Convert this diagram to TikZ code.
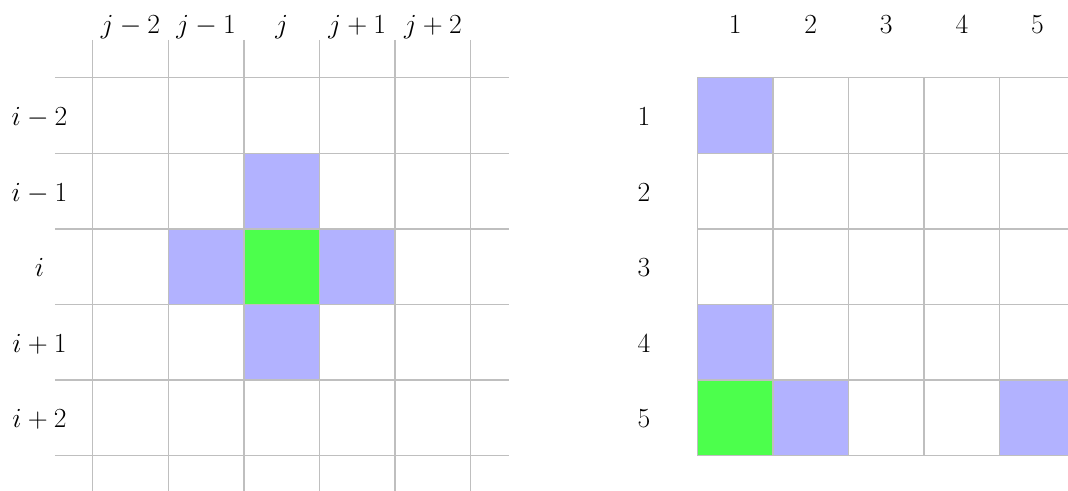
\documentclass[tikz,border=0pt]{standalone}
\begin{document}
\begin{tikzpicture}[x=0.75pt,y=-0.75pt,
  gridline/.style={draw=gray!50, line width=1.1pt},
  bluecell/.style={fill=blue!30},
  greencell/.style={fill=green!70},
  lbl/.style={font=\fontsize{20.74}{25}\selectfont, inner sep=0pt, anchor=base}]
\useasboundingbox (0,0) rectangle (1068,491);
\clip (0,0) rectangle (1068,491);
\def\s{75.6}
\def\lx{92.7}
\def\rx{697.3}
\def\ty{77.7}
% left grid fills (col,row)
\foreach \c/\r in {2/1,1/2,3/2,2/3}
  \fill[bluecell] ({\lx+\c*\s},{\ty+\r*\s}) rectangle +(\s,\s);
\fill[greencell] ({\lx+2*\s},{\ty+2*\s}) rectangle +(\s,\s);
% right grid fills
\foreach \c/\r in {0/0,0/3,1/4,4/4}
  \fill[bluecell] ({\rx+\c*\s},{\ty+\r*\s}) rectangle +(\s,\s);
\fill[greencell] ({\rx},{\ty+4*\s}) rectangle +(\s,\s);
% left grid lines
\foreach \k in {0,...,5} {
  \draw[gridline] ({\lx+\k*\s},39.9) -- ({\lx+\k*\s},496);
  \draw[gridline] (54.9,{\ty+\k*\s}) -- (508.5,{\ty+\k*\s});
}
% right grid lines
\foreach \k in {0,...,5} {
  \draw[gridline] ({\rx+\k*\s},\ty) -- ({\rx+\k*\s},{\ty+5*\s});
  \draw[gridline] (\rx,{\ty+\k*\s}) -- ({\rx+5*\s},{\ty+\k*\s});
}
% left labels
\node[lbl] (cjm2) at ({\lx+0.5*\s},33.5) {$j-2$};
\node[lbl] (cjm1) at ({\lx+1.5*\s},33.5) {$j-1$};
\node[lbl] (cj)   at ({\lx+2.5*\s},33.5) {$j$};
\node[lbl] (cjp1) at ({\lx+3.5*\s},33.5) {$j+1$};
\node[lbl] (cjp2) at ({\lx+4.5*\s},33.5) {$j+2$};
\node[lbl] (rim2) at (39.5,{\ty+0.5*\s+10}) {$i-2$};
\node[lbl] (rim1) at (39.5,{\ty+1.5*\s+10}) {$i-1$};
\node[lbl] (ri)   at (39.5,{\ty+2.5*\s+10}) {$i$};
\node[lbl] (rip1) at (39.5,{\ty+3.5*\s+10}) {$i+1$};
\node[lbl] (rip2) at (39.5,{\ty+4.5*\s+10}) {$i+2$};
% right labels
\foreach \k in {1,...,5} {
  \node[lbl] (rc\k) at ({\rx+(\k-0.5)*\s},34) {$\k$};
  \node[lbl] (rr\k) at (644,{\ty+(\k-0.5)*\s+10}) {$\k$};
}
\end{tikzpicture}
\end{document}
